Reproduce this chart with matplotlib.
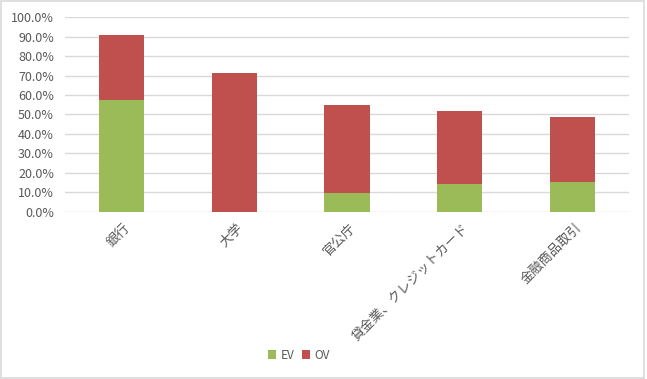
import numpy as np
import matplotlib.pyplot as plt
from matplotlib.ticker import PercentFormatter

plt.rcParams['font.family'] = ['Noto Sans CJK JP', 'DejaVu Sans']

categories = ['銀行', '大学', '官公庁', '貸金業、クレジットカード', '金融商品取引']
ev = [57.3, 0.0, 9.8, 14.1, 15.1]
ov = [33.6, 71.3, 45.1, 37.9, 33.5]

fig = plt.figure(figsize=(6.47, 3.79), dpi=100)
ax = fig.add_axes([0.1005, 0.4414, 0.8715, 0.513])

x = np.arange(len(categories))
ax.bar(x, ev, width=0.4, color='#9BBB59', label='EV', zorder=3)
ax.bar(x, ov, width=0.4, bottom=ev, color='#C0504D', label='OV', zorder=3)

ax.set_xlim(-0.5, len(categories) - 0.5)
ax.set_ylim(0, 100)
ax.set_yticks(np.arange(0, 101, 10))
ax.yaxis.set_major_formatter(PercentFormatter(decimals=1))
ax.grid(axis='y', color='#D9D9D9', linewidth=1, zorder=0)
for s in ax.spines.values():
    s.set_visible(False)
ax.tick_params(length=0, labelcolor='#595959')
ax.tick_params(axis='y', pad=8, labelsize=9)
ax.tick_params(axis='x', pad=7, labelsize=9.5)
ax.set_xticks(x + 0.02)
ax.set_xticklabels(categories, rotation=45, ha='right', rotation_mode='anchor')

ax.legend(loc='center', bbox_to_anchor=(0.462, 0.063), bbox_transform=fig.transFigure,
          ncol=2, frameon=False, fontsize=8.5, labelcolor='#595959',
          handlelength=0.7, handleheight=0.7, handletextpad=0.4, columnspacing=0.6)

fig.patches.append(plt.Rectangle((0.002, 0.003), 0.994, 0.994, transform=fig.transFigure,
                                 fill=False, edgecolor='#D9D9D9', linewidth=1.2))

fig.savefig('out.png', dpi=100)
